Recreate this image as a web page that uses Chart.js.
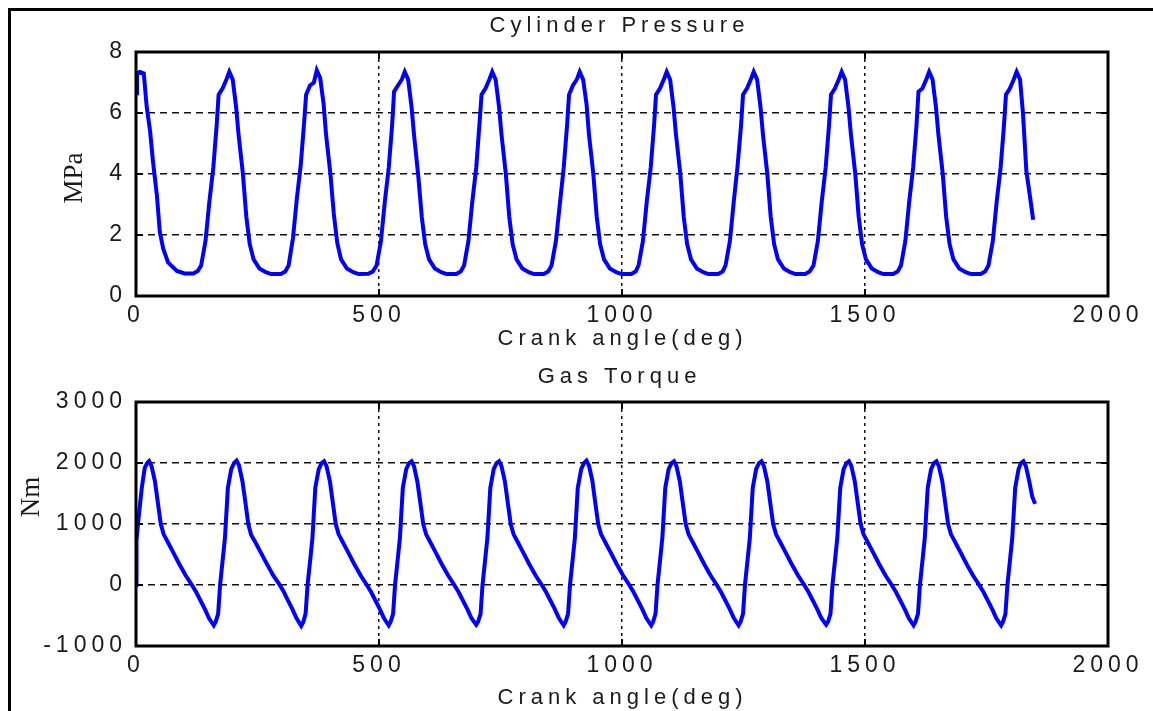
<!DOCTYPE html>
<html><head><meta charset="utf-8">
<script src="https://cdn.jsdelivr.net/npm/chart.js@4"></script>
<style>
html,body{margin:0;padding:0;background:#fff;width:1153px;height:711px;overflow:hidden}
#frame{position:absolute;left:8px;top:8px;width:1300px;height:900px;border-left:3px solid #000;border-top:3px solid #000}
canvas{position:absolute;left:0}
</style></head><body>
<div id="frame"></div>
<canvas id="c1" width="1153" height="356" style="top:0"></canvas>
<canvas id="c2" width="1153" height="355" style="top:356px"></canvas>
<script>
const pressureAngle = [
 0,2,8,16,22,29,35,43,49,56,66,84,100,118,127,
 134,143,151,159,166,170,178,186,192,199,206,211,220,227,234,242,254,267,278,298,307,
 314,323,331,339,346,350,358,366,372,379,386,391,400,407,414,422,434,447,458,478,487,
 495,504,512,520,527,531,539,547,553,560,567,572,581,588,595,603,615,628,639,659,668,
 675,684,692,700,707,711,719,727,733,740,747,752,761,768,775,783,795,808,819,839,848,
 855,864,872,880,887,891,899,907,913,920,927,932,941,948,955,963,975,988,999,1019,1028,
 1034,1043,1051,1059,1066,1070,1078,1086,1092,1099,1106,1111,1120,1127,1134,1142,1154,1167,1178,1198,1207,
 1213,1222,1230,1238,1245,1249,1257,1265,1271,1278,1285,1290,1299,1306,1313,1321,1333,1346,1357,1377,1386,
 1394,1403,1411,1419,1426,1430,1438,1446,1452,1459,1466,1471,1480,1487,1494,1502,1514,1527,1538,1558,1567,
 1574,1583,1591,1599,1606,1610,1618,1626,1632,1639,1646,1651,1660,1667,1674,1682,1694,1707,1718,1738,1747,
 1754,1763,1771,1779,1786,1790,1798,1806,1812,1819,1825,1832,1840,1846
];
const pressureMPa = [
 6.65,7.3,7.35,7.3,6.2,5.4,4.4,3.3,2.1,1.55,1.1,0.82,0.74,0.74,0.82,
 1.0,1.8,3.1,4.2,5.6,6.6,6.8,7.1,7.35,7.1,6.2,5.3,4.0,2.6,1.7,1.2,0.9,0.78,0.72,0.72,0.8,
 1.0,1.9,3.2,4.3,5.7,6.6,6.9,7.0,7.4,7.15,6.3,5.3,4.0,2.7,1.75,1.2,0.9,0.78,0.72,0.73,0.8,
 1.0,1.8,3.1,4.2,5.6,6.7,6.9,7.1,7.35,7.1,6.2,5.3,3.9,2.6,1.7,1.2,0.9,0.78,0.72,0.72,0.8,
 1.0,1.8,3.1,4.2,5.7,6.6,6.8,7.1,7.35,7.1,6.2,5.3,4.0,2.6,1.7,1.2,0.9,0.78,0.72,0.72,0.8,
 1.0,1.8,3.0,4.2,5.6,6.6,6.9,7.1,7.35,7.1,6.3,5.3,4.0,2.6,1.7,1.2,0.9,0.78,0.72,0.72,0.8,
 1.0,1.8,3.1,4.2,5.6,6.6,6.8,7.1,7.35,7.1,6.2,5.3,4.0,2.6,1.7,1.2,0.9,0.78,0.72,0.72,0.8,
 1.0,1.8,3.1,4.3,5.6,6.6,6.8,7.1,7.35,7.1,6.2,5.3,4.0,2.6,1.7,1.2,0.9,0.78,0.72,0.72,0.8,
 1.0,1.8,3.1,4.2,5.6,6.6,6.8,7.1,7.35,7.1,6.2,5.3,4.0,2.6,1.7,1.2,0.9,0.78,0.72,0.72,0.8,
 1.0,1.8,3.1,4.2,5.6,6.7,6.8,7.1,7.35,7.1,6.2,5.3,4.0,2.6,1.7,1.2,0.9,0.78,0.72,0.72,0.8,
 1.0,1.8,3.1,4.2,5.6,6.6,6.8,7.1,7.35,7.1,6.0,4.1,3.2,2.5
];
const torqueAngle = [
 0,1,4,8,12,18,23,
 27,32,39,45,51,57,67,75,89,102,115,124,130,142,150,160,164,169,173,179,183,189,196,202,
 207,212,219,225,231,237,247,255,269,282,295,304,310,322,330,340,344,349,353,359,363,369,376,382,
 387,392,399,405,411,417,427,435,449,462,475,484,490,502,510,520,524,529,533,539,543,549,556,562,
 567,572,579,585,591,597,607,615,629,642,655,664,670,682,690,700,704,709,713,719,723,729,736,742,
 747,752,759,765,771,777,787,795,809,822,835,844,850,862,870,880,884,889,893,899,903,909,916,922,
 927,932,939,945,951,957,967,975,989,1002,1015,1024,1030,1042,1050,1060,1064,1069,1073,1079,1083,1089,1096,1102,
 1107,1112,1119,1125,1131,1137,1147,1155,1169,1182,1195,1204,1210,1222,1230,1240,1244,1249,1253,1259,1263,1269,1276,1282,
 1287,1292,1299,1305,1311,1317,1327,1335,1349,1362,1375,1384,1390,1402,1410,1420,1424,1429,1433,1439,1443,1449,1456,1462,
 1467,1472,1479,1485,1491,1497,1507,1515,1529,1542,1555,1564,1570,1582,1590,1600,1604,1609,1613,1619,1623,1629,1636,1642,
 1647,1652,1659,1665,1671,1677,1687,1695,1709,1722,1735,1744,1750,1762,1770,1780,1784,1789,1793,1799,1803,1809,1816,1821,
 1826,1831,1838,1844,1850
];
const torqueNm = [
 0,720,1000,1300,1600,1920,2000,
 2030,1950,1700,1350,1000,830,680,560,344,160,0,-120,-213,-400,-541,-660,-600,-475,0,460,770,1590,1900,2000,
 2040,1960,1700,1360,1000,820,680,560,350,160,10,-110,-210,-400,-540,-670,-610,-470,0,450,770,1600,1900,2000,
 2030,1950,1700,1350,1000,830,680,560,344,160,0,-120,-213,-400,-541,-660,-600,-475,0,460,770,1590,1900,2000,
 2030,1950,1690,1350,1000,830,680,560,344,160,0,-120,-213,-400,-541,-650,-600,-475,0,460,770,1590,1900,2000,
 2030,1950,1700,1350,1000,830,680,560,344,160,0,-120,-213,-400,-541,-660,-600,-475,0,460,770,1590,1900,2000,
 2040,1960,1710,1350,1000,830,680,560,344,160,0,-120,-213,-400,-541,-660,-600,-475,0,460,770,1590,1900,2000,
 2030,1950,1700,1350,1000,830,680,560,344,160,0,-120,-213,-400,-541,-660,-600,-475,0,460,770,1590,1900,2000,
 2030,1950,1700,1350,1000,830,680,560,344,160,0,-120,-213,-400,-541,-650,-600,-475,0,460,770,1590,1900,2000,
 2030,1950,1700,1350,1000,830,680,560,344,160,0,-120,-213,-400,-541,-660,-600,-475,0,460,770,1590,1900,2000,
 2030,1950,1700,1350,1000,830,680,560,344,160,0,-120,-213,-400,-541,-660,-600,-475,0,460,770,1590,1900,2000,
 2030,1950,1700,1450,1330
];
const xTicks = [0, 500, 1000, 1500, 2000];
const pressureTicks = [0, 2, 4, 6, 8];
const torqueTicks = [-1000, 0, 1000, 2000, 3000];
const chartTitles = ['Cylinder Pressure', 'Gas Torque'];
const xLabel = 'Crank angle(deg)';
const yLabels = ['MPa', 'Nm'];

const TICK_FONT = {family: "'Liberation Sans', Arial, sans-serif", size: 23};

function makeChart(id, xs, ys, yTicks, title, yLabel, g) {
  const ctx = document.getElementById(id).getContext('2d');
  const textPlugin = {
    id: 'frameText',
    beforeDraw(chart) { chart.ctx.letterSpacing = '5px'; },
    afterDraw(chart) {
      const c = chart.ctx, a = chart.chartArea;
      const xs_ = chart.scales.x, ys_ = chart.scales.y;
      c.save();
      c.letterSpacing = '0px';
      c.strokeStyle = '#000';
      c.lineWidth = 3;
      c.setLineDash([]);
      c.strokeRect(a.left, a.top, a.right - a.left, a.bottom - a.top);
      c.lineWidth = 2;
      c.beginPath();
      xTicks.forEach(v => {
        const px = xs_.getPixelForValue(v);
        c.moveTo(px, a.top); c.lineTo(px, a.top + 7);
        c.moveTo(px, a.bottom); c.lineTo(px, a.bottom - 7);
      });
      yTicks.forEach(v => {
        const py = ys_.getPixelForValue(v);
        c.moveTo(a.left, py); c.lineTo(a.left + 7, py);
        c.moveTo(a.right, py); c.lineTo(a.right - 7, py);
      });
      c.stroke();
      c.fillStyle = '#1a1a1a';
      c.font = "22px 'Liberation Sans', Arial, sans-serif";
      c.letterSpacing = '5px';
      c.textAlign = 'center';
      c.textBaseline = 'alphabetic';
      c.fillText(title, g.titleX + 2.5, g.titleY);
      c.fillText(xLabel, 622.5, g.xLabelY);
      c.letterSpacing = '0px';
      c.font = "27px 'Liberation Serif', 'Times New Roman', serif";
      c.translate(g.yLabelX, g.yLabelY);
      c.rotate(-Math.PI / 2);
      c.fillText(yLabel, 0, 0);
      c.restore();
    }
  };
  return new Chart(ctx, {
    type: 'line',
    data: {
      datasets: [{
        data: xs.map((x, i) => ({x: x, y: ys[i]})),
        borderColor: '#0000ff',
        borderWidth: 4,
        pointRadius: 0,
        tension: 0,
        fill: false
      }]
    },
    options: {
      responsive: false,
      animation: false,
      devicePixelRatio: 1,
      layout: {padding: {left: 0, right: 45, top: g.padTop, bottom: 0}},
      plugins: {legend: {display: false}, tooltip: {enabled: false}, title: {display: false}},
      scales: {
        x: {
          type: 'linear', min: 0, max: 2000,
          afterBuildTicks: s => { s.ticks = xTicks.map(v => ({value: v})); },
          afterFit: s => { s.height = g.xAxisH; },
          ticks: {font: TICK_FONT, color: '#1a1a1a', padding: 6, maxRotation: 0, autoSkip: false, callback: v => String(v)},
          grid: {color: c => (c.tick && c.tick.value > 0 && c.tick.value < 2000) ? '#111' : 'rgba(0,0,0,0)', lineWidth: 1.5, drawTicks: false},
          border: {display: false, dash: [3, 4]}
        },
        y: {
          type: 'linear', min: yTicks[0], max: yTicks[yTicks.length - 1],
          afterBuildTicks: s => { s.ticks = yTicks.map(v => ({value: v})); },
          afterFit: s => { s.width = 136; },
          ticks: {font: TICK_FONT, color: '#1a1a1a', padding: 9, autoSkip: false, callback: v => String(v)},
          grid: {color: c => (c.tick && c.tick.value > yTicks[0] && c.tick.value < yTicks[yTicks.length-1]) ? '#111' : 'rgba(0,0,0,0)', lineWidth: 1.5, drawTicks: false},
          border: {display: false, dash: [7, 5]}
        }
      }
    },
    plugins: [textPlugin]
  });
}

makeChart('c1', pressureAngle, pressureMPa, pressureTicks, chartTitles[0], yLabels[0],
  {padTop: 52, xAxisH: 60, titleX: 617, titleY: 32, xLabelY: 345, yLabelX: 82, yLabelY: 178});
makeChart('c2', torqueAngle, torqueNm, torqueTicks, chartTitles[1], yLabels[1],
  {padTop: 46, xAxisH: 65, titleX: 617, titleY: 27, xLabelY: 348, yLabelX: 39, yLabelY: 141});
</script>
</body></html>
